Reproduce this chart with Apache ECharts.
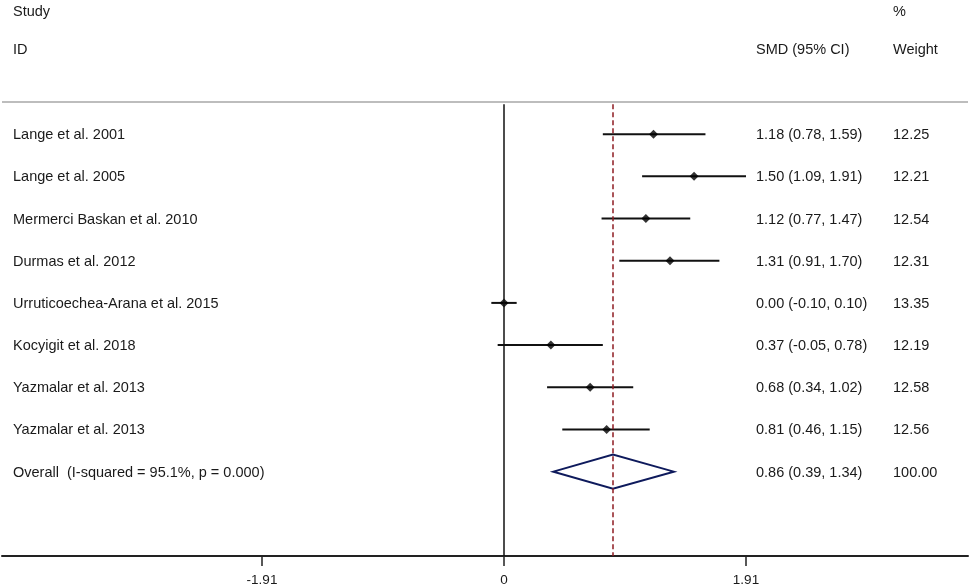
<!DOCTYPE html>
<html>
<head>
<meta charset="utf-8">
<script src="https://cdn.jsdelivr.net/npm/echarts@6/dist/echarts.min.js"></script>
<style>
html,body{margin:0;padding:0;background:#fff;}
#chart{width:970px;height:587px;}
</style>
</head>
<body>
<div id="chart"></div>
<script>
// ---- data ----
const studies = [
  "Lange et al. 2001",
  "Lange et al. 2005",
  "Mermerci Baskan et al. 2010",
  "Durmas et al. 2012",
  "Urruticoechea-Arana et al. 2015",
  "Kocyigit et al. 2018",
  "Yazmalar et al. 2013",
  "Yazmalar et al. 2013"
];
const smd   = [1.18, 1.50, 1.12, 1.31, 0.00, 0.37, 0.68, 0.81];
const lower = [0.78, 1.09, 0.77, 0.91, -0.10, -0.05, 0.34, 0.46];
const upper = [1.59, 1.91, 1.47, 1.70, 0.10, 0.78, 1.02, 1.15];
const weights = [12.25, 12.21, 12.54, 12.31, 13.35, 12.19, 12.58, 12.56];
const overallLabel = "Overall  (I-squared = 95.1%, p = 0.000)";
const overallSmd = 0.86, overallLower = 0.39, overallUpper = 1.34, overallWeight = 100.00;
const xTicks = [-1.91, 0, 1.91];

// ---- layout ----
const FONT = "'Liberation Sans', Arial, sans-serif";
const FS = 14.5;
const TXT = '#1a1a1a';
const gridLeft = 2, gridRight = 2;
const zeroPx = 504, pxPerUnit = 242 / 1.91;
const xMin = -(zeroPx - gridLeft) / pxPerUnit;
const xMax = (970 - gridRight - zeroPx) / pxPerUnit;
const yTopLine = 0.24;

const rows = studies.map((s, i) => ({
  name: s, row: i + 1, est: smd[i], lo: lower[i], hi: upper[i], w: weights[i]
}));
const fmt = v => v.toFixed(2);
const textRows = rows.map(r => [r.row, r.name, `${fmt(r.est)} (${fmt(r.lo)}, ${fmt(r.hi)})`, fmt(r.w)]);
textRows.push([9, overallLabel, `${fmt(overallSmd)} (${fmt(overallLower)}, ${fmt(overallUpper)})`, fmt(overallWeight)]);

const chart = echarts.init(document.getElementById('chart'), null, {renderer: 'canvas'});

const hdr = (x, y, s) => ({type: 'text', x: x, y: y, style: {text: s, fill: TXT, font: `${FS}px ${FONT}`, textVerticalAlign: 'middle'}});

const option = {
  animation: false,
  backgroundColor: '#fff',
  grid: {left: gridLeft, right: gridRight, top: 92, bottom: 31},
  xAxis: {
    type: 'value', min: xMin, max: xMax,
    axisLine: {show: true, onZero: false, lineStyle: {color: '#222', width: 2}},
    axisTick: {show: true, customValues: xTicks, length: 10, lineStyle: {color: '#222', width: 1.5}},
    axisLabel: {customValues: xTicks, formatter: v => String(v), color: TXT, fontFamily: FONT, fontSize: 13.5, margin: 17},
    splitLine: {show: false}
  },
  yAxis: {
    type: 'value', min: 0, max: 11, inverse: true, show: false
  },
  graphic: [
    hdr(13, 12, 'Study'),
    hdr(13, 50, 'ID'),
    hdr(756, 50, 'SMD (95% CI)'),
    hdr(893, 12, '%'),
    hdr(893, 50, 'Weight')
  ],
  series: [
    {
      // reference lines
      type: 'line', data: [], silent: true,
      markLine: {
        symbol: 'none', silent: true, label: {show: false},
        data: [
          [{coord: [xMin, yTopLine], lineStyle: {color: '#bdbdbd', width: 2, type: 'solid'}}, {coord: [xMax, yTopLine]}],
          [{coord: [0, yTopLine + 0.05], lineStyle: {color: '#111', width: 1.5, type: 'solid'}}, {coord: [0, 11]}],
          [{coord: [overallSmd, yTopLine + 0.05], lineStyle: {color: '#8e1b22', width: 1.5, type: [5, 3]}}, {coord: [overallSmd, 11]}]
        ]
      }
    },
    {
      // CI lines
      type: 'custom',
      data: rows.map(r => [r.lo, r.hi, r.row]),
      renderItem: (params, api) => {
        const a = api.coord([api.value(0), api.value(2)]);
        const b = api.coord([api.value(1), api.value(2)]);
        return {type: 'line', shape: {x1: a[0], y1: a[1], x2: b[0], y2: b[1]}, style: {stroke: '#111', lineWidth: 2}};
      }
    },
    {
      type: 'scatter',
      data: rows.map(r => [r.est, r.row]),
      symbol: 'diamond', symbolSize: 9,
      itemStyle: {color: '#000'}
    },
    {
      // overall diamond
      type: 'custom',
      data: [[overallLower, overallSmd, overallUpper, 9]],
      renderItem: (params, api) => {
        const y = api.value(3);
        const l = api.coord([api.value(0), y]);
        const c = api.coord([api.value(1), y]);
        const r = api.coord([api.value(2), y]);
        const h = 17;
        return {type: 'polygon', shape: {points: [[l[0], l[1]], [c[0], c[1] - h], [r[0], r[1]], [c[0], c[1] + h]]},
          style: {fill: '#fff', stroke: '#0e1a5c', lineWidth: 2}};
      }
    },
    {
      // text columns
      type: 'custom',
      data: textRows.map(t => [0, t[0]]),
      renderItem: (params, api) => {
        const t = textRows[params.dataIndex];
        const p = api.coord([0, api.value(1)]);
        const mk = (x, s) => ({type: 'text', x: x, y: p[1] + 1, style: {text: s, fill: TXT, font: `${FS}px ${FONT}`, textVerticalAlign: 'middle', textAlign: 'left'}});
        return {type: 'group', children: [mk(13, t[1]), mk(756, t[2]), mk(893, t[3])]};
      }
    }
  ]
};
chart.setOption(option);
</script>
</body>
</html>
